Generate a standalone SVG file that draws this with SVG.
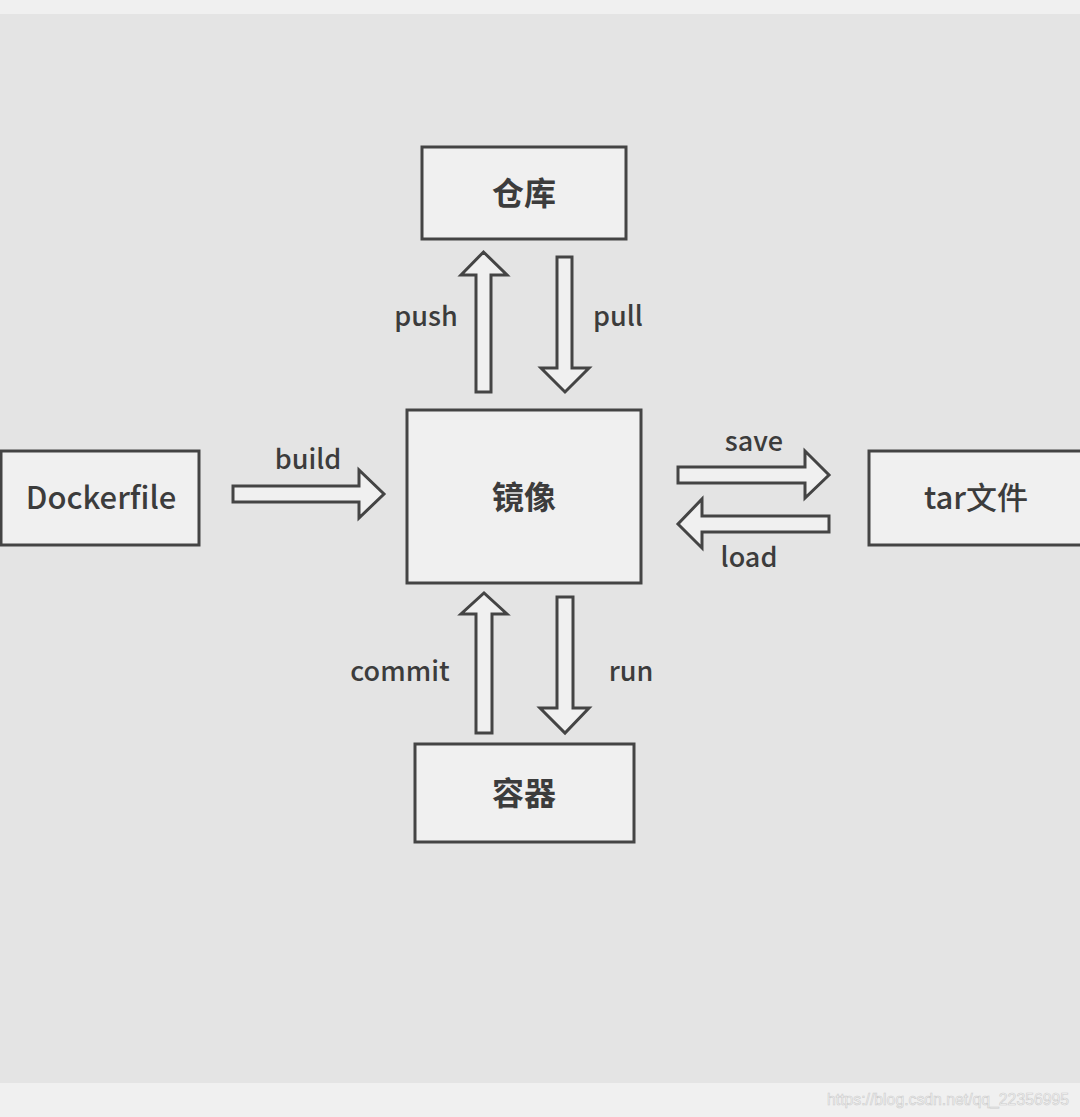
<svg xmlns="http://www.w3.org/2000/svg" width="1080" height="1117" viewBox="0 0 1080 1117">
<style>
.box{fill:#f0f0f0;stroke:#444;stroke-width:3}
.arr{fill:#f0f0f0;stroke:#444;stroke-width:3;stroke-linejoin:miter}
.node{font-family:"Noto Sans CJK SC","Noto Sans",sans-serif;font-size:32px;font-weight:bold;fill:#3c3c3c;text-anchor:middle;dominant-baseline:central}
.lat{font-weight:500;font-size:31px}
.lbl{font-family:"Noto Sans CJK SC","Noto Sans",sans-serif;font-size:27px;font-weight:500;fill:#3c3c3c;text-anchor:middle;dominant-baseline:central}
.wm{font-family:"Liberation Sans",Arial,sans-serif;font-size:16px;fill:#f6f6f6;stroke:#cccccc;stroke-width:0.6}
</style>
<rect x="0" y="0" width="1080" height="1117" fill="#f0f0f0"/>
<rect x="0" y="14" width="1080" height="1069" fill="#e4e4e4"/>
<g id="connectors">
<polygon class="arr" points="476,392 491,392 491,275 507,275 483.5,252 461,275 476,275"/>
<polygon class="arr" points="557,257 572,257 572,368 589,368 565,392 541,368 557,368"/>
<polygon class="arr" points="233,486 359,486 359,470 384,494 359,518 359,502 233,502"/>
<polygon class="arr" points="678,467 805,467 805,451 829,475 805,498 805,483 678,483"/>
<polygon class="arr" points="829,516 702,516 702,499 678,524 702,548 702,532 829,532"/>
<polygon class="arr" points="476,733 492,733 492,614 507,614 484,593 461,614 476,614"/>
<polygon class="arr" points="557,597 573,597 573,708 589,708 565,733 540,708 557,708"/>
<text class="lbl" x="426" y="314">push</text>
<text class="lbl" x="618" y="314">pull</text>
<text class="lbl" x="308" y="457">build</text>
<text class="lbl" x="754" y="439">save</text>
<text class="lbl" x="749" y="555">load</text>
<text class="lbl" x="400" y="669">commit</text>
<text class="lbl" x="631" y="669">run</text>
</g>
<g id="node-cangku">
<rect class="box" x="422" y="147" width="204" height="92"/>
<text class="node" x="524" y="191">仓库</text>
</g>
<g id="node-jingxiang">
<rect class="box" x="407" y="410" width="234" height="173"/>
<text class="node" x="524" y="495">镜像</text>
</g>
<g id="node-dockerfile">
<rect class="box" x="1" y="451" width="198" height="94"/>
<text class="node lat" x="101" y="495">Dockerfile</text>
</g>
<g id="node-tar">
<rect class="box" x="869" y="451" width="220" height="94"/>
<text class="node lat" x="976" y="495">tar文件</text>
</g>
<g id="node-rongqi">
<rect class="box" x="415" y="744" width="219" height="98"/>
<text class="node" x="524" y="791">容器</text>
</g>
<text class="wm" x="827" y="1105" textLength="242" lengthAdjust="spacingAndGlyphs">https://blog.csdn.net/qq_22356995</text>
</svg>
